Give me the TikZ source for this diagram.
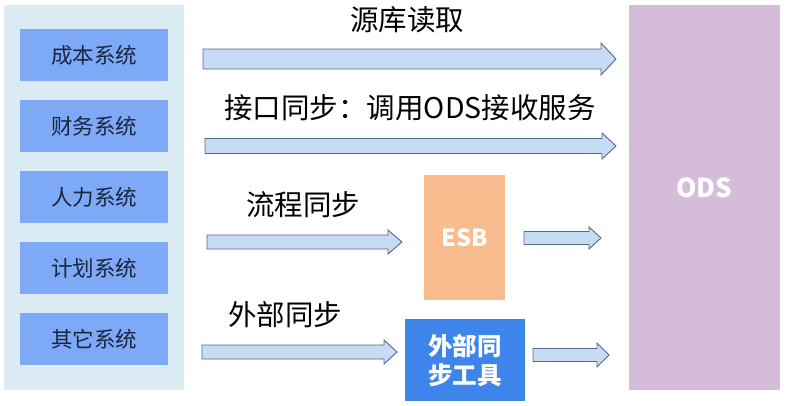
\documentclass[tikz,border=0pt]{standalone}
\usepackage{fontspec}
\newfontfamily\cjk{Noto Sans CJK SC}
\definecolor{panelc}{HTML}{DAEBF3}
\definecolor{sysc}{HTML}{7DA9F6}
\definecolor{systext}{HTML}{1A2540}
\definecolor{esbc}{HTML}{F8BC8F}
\definecolor{toolc}{HTML}{3E85EB}
\definecolor{odsc}{HTML}{D5BCDB}
\definecolor{arrfill}{HTML}{C6DBF4}
\definecolor{arrline}{HTML}{55698A}
\tikzset{
  panelbox/.style={fill=panelc, draw=none, inner sep=0pt, anchor=north west},
  sysbox/.style={fill=sysc, draw=none, minimum width=148pt, minimum height=52pt, inner sep=0pt,
    text=systext, font=\cjk\fontsize{21.5}{24}\selectfont},
  bigbox/.style={draw=none, inner sep=0pt, anchor=north west, text=white, align=center},
  lab/.style={font=\cjk\fontsize{28.5}{32}\selectfont, text=black, inner sep=0pt},
  blockarrow/.style={fill=arrfill, draw=arrline, line width=0.9pt, line join=miter}
}
% \barrow{x1}{x2}{yc}{shaft half}{head half}{head length}
\newcommand\barrow[6]{%
  \draw[blockarrow] (#1,#3-#4) -- (#2-#6,#3-#4) -- (#2-#6,#3-#5) -- (#2,#3)
    -- (#2-#6,#3+#5) -- (#2-#6,#3+#4) -- (#1,#3+#4) -- cycle;}
\begin{document}
\begin{tikzpicture}[x=1pt,y=-1pt]
\useasboundingbox (0,0) rectangle (785,405);
\fill[white] (0,0) rectangle (785,405);
% left panel
\node[panelbox, minimum width=180pt, minimum height=385pt] (panel) at (4,5) {};
\node[sysbox] (s1) at (94,55) {成本系统};
\node[sysbox] (s2) at (94,126) {财务系统};
\node[sysbox] (s3) at (94,197) {人力系统};
\node[sysbox] (s4) at (94,268) {计划系统};
\node[sysbox] (s5) at (94,339) {其它系统};
% ODS
\node[bigbox, fill=odsc, minimum width=151pt, minimum height=385pt] (ods) at (629,5) {};
\node[text=white, font=\cjk\bfseries\fontsize{26}{29}\selectfont, inner sep=0pt] (odst) at (704.5,188) {ODS};
% ESB
\node[bigbox, fill=esbc, minimum width=81pt, minimum height=125pt,
  font=\cjk\bfseries\fontsize{23.5}{26}\selectfont] (esb) at (424,175) {ESB};
% tool
\node[bigbox, fill=toolc, minimum width=120pt, minimum height=82pt,
  font=\cjk\bfseries\fontsize{24.5}{29}\selectfont] (tool) at (405,319) {外部同\\步工具};
% labels
\node[lab] (l1) at (407,20) {源库读取};
\node[lab] (l2) at (410,108) {接口同步：调用ODS接收服务};
\node[lab] (l3) at (303,205) {流程同步};
\node[lab] (l4) at (285,315) {外部同步};
% arrows
\barrow{203}{616}{59}{10}{16}{15}
\barrow{205}{616}{146}{7.5}{13}{14}
\barrow{207}{402}{242}{7}{12}{14}
\barrow{202}{397}{352}{7}{12}{13}
\barrow{524}{601}{238}{6.5}{11}{12}
\barrow{533}{609}{355}{6.5}{12}{12}
\end{tikzpicture}
\end{document}
